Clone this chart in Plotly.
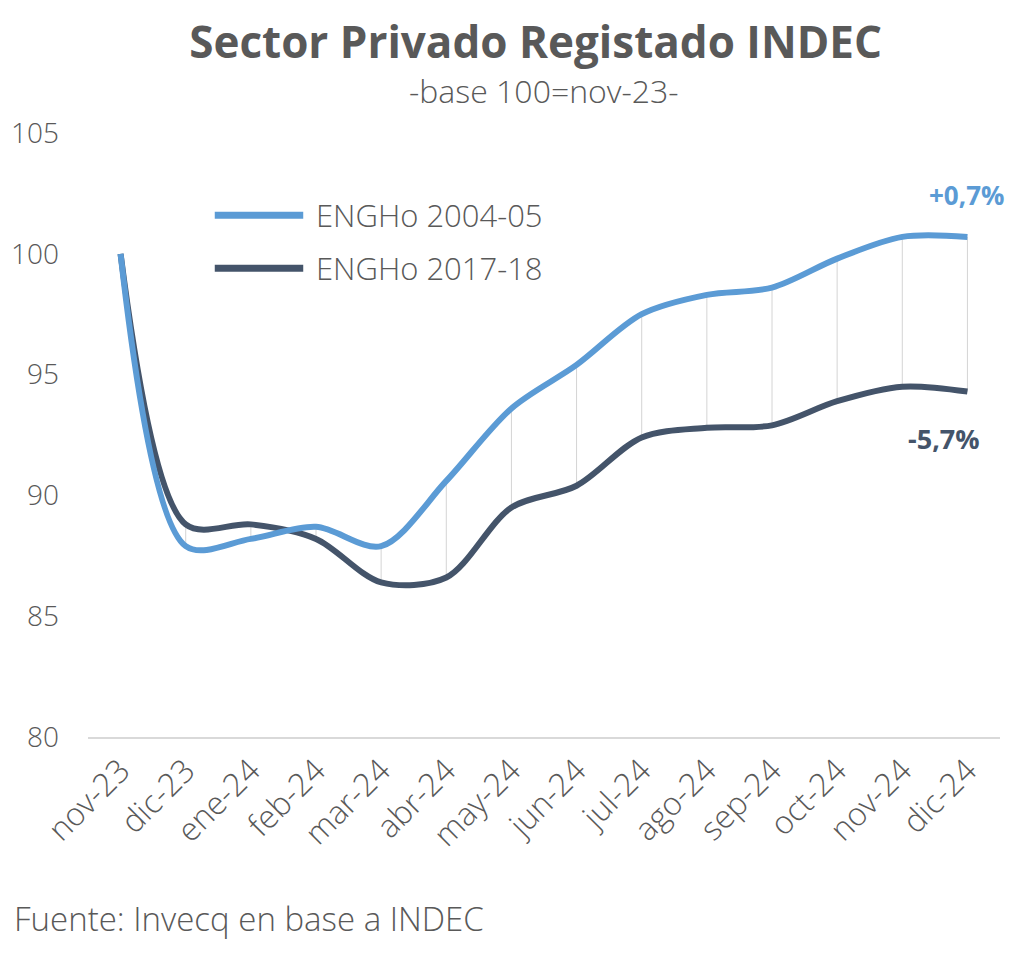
import plotly.graph_objects as go

months = ["nov-23", "dic-23", "ene-24", "feb-24", "mar-24", "abr-24", "may-24",
          "jun-24", "jul-24", "ago-24", "sep-24", "oct-24", "nov-24", "dic-24"]
engho_2004 = [100.0, 87.9, 88.2, 88.7, 87.9, 90.6, 93.6, 95.4, 97.5, 98.3, 98.6, 99.8, 100.7, 100.7]
engho_2017 = [100.0, 88.8, 88.8, 88.2, 86.4, 86.6, 89.5, 90.4, 92.4, 92.8, 92.9, 93.9, 94.5, 94.3]
series_names = ["ENGHo 2004-05", "ENGHo 2017-18"]
label_2004 = "+0,7%"
label_2017 = "-5,7%"

LIGHT = "#5B9BD5"
DARK = "#44546A"
GRAY = "#595959"
FONT = "'Open Sans', Lato, sans-serif"

fig = go.Figure()

# drop lines between series
dx, dy = [], []
for i in range(1, len(months)):
    dx += [months[i], months[i], None]
    dy += [engho_2004[i], engho_2017[i], None]
fig.add_trace(go.Scatter(x=dx, y=dy, mode="lines", line=dict(color="#D4D4D4", width=1),
                         hoverinfo="skip", showlegend=False))

fig.add_trace(go.Scatter(x=months, y=engho_2017, mode="lines", name=series_names[1],
                         line=dict(color=DARK, width=6, shape="spline", smoothing=0.9),
                         showlegend=False))
fig.add_trace(go.Scatter(x=months, y=engho_2004, mode="lines", name=series_names[0],
                         line=dict(color=LIGHT, width=6, shape="spline", smoothing=0.9),
                         showlegend=False))

# manual legend
leg = [(series_names[0], LIGHT, 0.864), (series_names[1], DARK, 0.776)]
for name, col, yy in leg:
    fig.add_shape(type="line", xref="paper", yref="paper", x0=0.139, x1=0.236, y0=yy, y1=yy,
                  line=dict(color=col, width=7))
    fig.add_annotation(xref="paper", yref="paper", x=0.248, y=yy, text=name, showarrow=False,
                       xanchor="left", yanchor="middle",
                       font=dict(size=31, color=GRAY, family=FONT, weight=300))

fig.add_annotation(x=months[-1], y=engho_2004[-1], text=f"<b>{label_2004}</b>", showarrow=False,
                   xanchor="center", yanchor="middle", yshift=42, xshift=-1,
                   font=dict(size=26, color=LIGHT, family=FONT))
fig.add_annotation(x=months[-1], y=engho_2017[-1], text=f"<b>{label_2017}</b>", showarrow=False,
                   xanchor="center", yanchor="middle", xshift=-23, yshift=-47,
                   font=dict(size=27, color=DARK, family=FONT))

fig.add_annotation(xref="paper", yref="paper", x=0.5, y=1, yshift=43, text="-base 100=nov-23-",
                   showarrow=False, xanchor="center", yanchor="middle",
                   font=dict(size=32, color=GRAY, family=FONT, weight=300))

fig.update_layout(
    width=1024, height=960,
    paper_bgcolor="white", plot_bgcolor="white",
    margin=dict(l=88, r=24, t=133, b=223),
    title=dict(text="<b>Sector Privado Registado INDEC</b>", x=0.523, xanchor="center",
               y=0.956, yanchor="middle", font=dict(size=44, color=GRAY, family=FONT)),
    font=dict(family=FONT, color=GRAY),
    xaxis=dict(type="category", categoryorder="array", categoryarray=months,
               range=[-0.5, 13.5], showgrid=False, showline=True,
               linecolor="#D9D9D9", linewidth=2, ticks="", tickangle=-45,
               tickfont=dict(size=32, color=GRAY, weight=300)),
    yaxis=dict(range=[80, 105], dtick=5, showgrid=False, zeroline=False, showline=False,
               tickfont=dict(size=28, color=GRAY, weight=300), ticklabelstandoff=28),
)

fig.add_annotation(xref="paper", yref="paper", x=-0.083, y=-0.30, text="Fuente: Invecq en base a INDEC",
                   showarrow=False, xanchor="left", yanchor="middle",
                   font=dict(size=33, color=GRAY, family=FONT, weight=300))

fig.write_html("out.html")
